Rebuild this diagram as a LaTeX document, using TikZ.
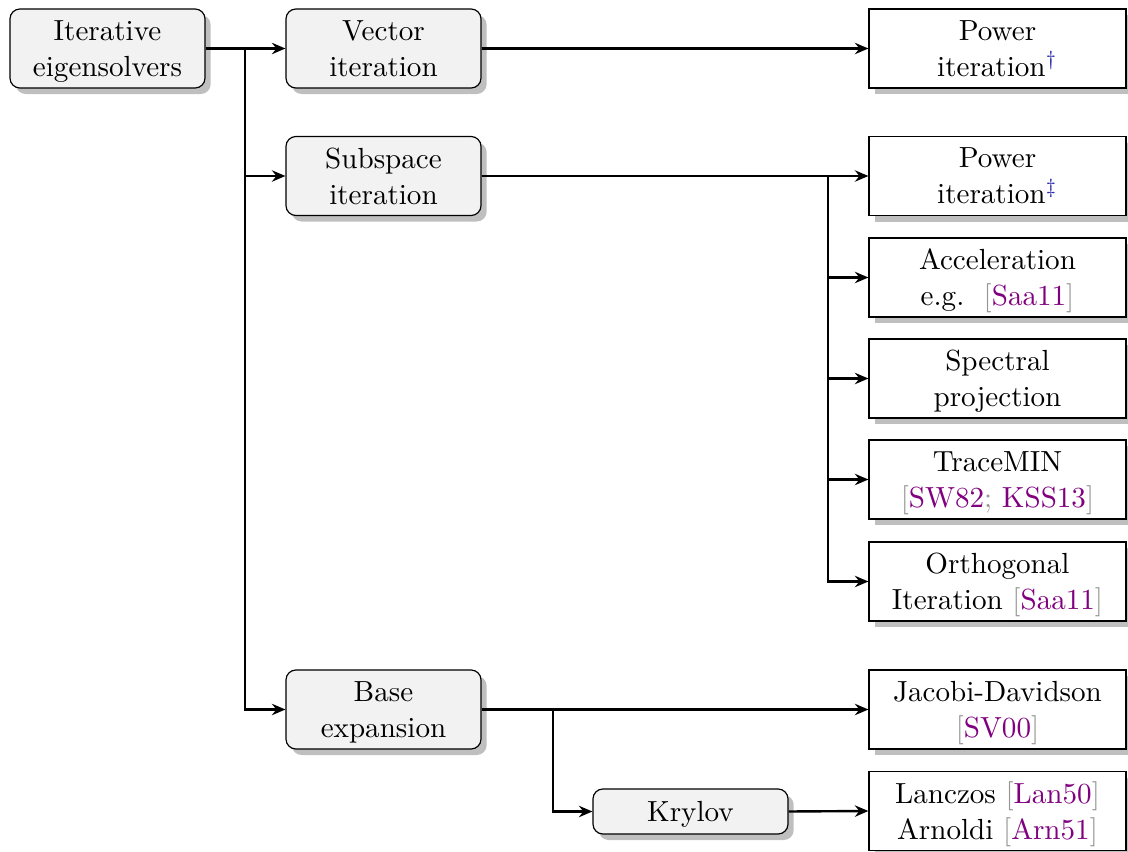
\documentclass[tikz,border=0pt]{standalone}
\usetikzlibrary{arrows.meta,shadows}
\definecolor{citecol}{RGB}{128,0,128}
\definecolor{brk}{RGB}{150,150,150}
\definecolor{dagcol}{RGB}{40,40,170}
\newcommand{\mycite}[1]{\textcolor{brk}{[}\textcolor{citecol}{#1}\textcolor{brk}{]}}
\newcommand{\mysemi}{\textcolor{brk}{;}}
\begin{document}
\begin{tikzpicture}[x=0.3333pt,y=-0.3333pt,
  every node/.style={font=\fontsize{9.7}{12}\selectfont},
  cat/.style={draw, rounded corners=3.3pt, fill=gray!10, align=center,
    minimum width=65pt, minimum height=26.33pt, inner sep=1pt, text depth=0pt,
    drop shadow={shadow xshift=1.9pt, shadow yshift=-2pt}},
  meth/.style={draw, fill=white, align=center,
    minimum width=85.67pt, minimum height=26.33pt, inner sep=1pt, text depth=0pt,
    drop shadow={shadow xshift=1.9pt, shadow yshift=-2pt}},
  conn/.style={line width=0.8pt},
  arr/.style={conn, -{Stealth[length=4.5pt,width=3.8pt,inset=1.5pt]}}]
\useasboundingbox (0,0) rectangle (1128,852);

\node[cat] (iter) at (107.5,48.5) {Iterative\\eigensolvers};
\node[cat] (vec) at (383.5,48.5) {Vector\\iteration};
\node[cat] (sub) at (383.5,176) {Subspace\\iteration};
\node[cat] (base) at (383.5,709.5) {Base\\expansion};
\node[cat, minimum height=15pt] (kry) at (690.5,811.5) {Krylov};

\node[meth] (pw1) at (997.5,48.5) {Power\\iteration\textsuperscript{\textcolor{dagcol}{\textdagger}}};
\node[meth] (pw2) at (997.5,176) {Power\\iteration\textsuperscript{\textcolor{dagcol}{\textdaggerdbl}}};
\node[meth] (acc) at (997.5,277.5) {Acceleration\\e.g.\ \ \mycite{Saa11}};
\node[meth] (spec) at (997.5,378.5) {Spectral\\projection};
\node[meth] (trace) at (997.5,479.5) {TraceMIN\\\textcolor{brk}{[}\textcolor{citecol}{SW82}\mysemi{} \textcolor{citecol}{KSS13}\textcolor{brk}{]}};
\node[meth] (orth) at (997.5,581.5) {Orthogonal\\Iteration \mycite{Saa11}};
\node[meth] (jd) at (997.5,709.5) {Jacobi-Davidson\\\mycite{SV00}};
\node[meth] (lan) at (997.5,811) {Lanczos \mycite{Lan50}\\Arnoldi \mycite{Arn51}};

\coordinate (j1) at (245,48.5);
\coordinate (j2) at (828,176);
\coordinate (j3) at (553,709.5);

\draw[conn] (iter.east) -- (j1);
\draw[arr] (j1) -- (vec.west);
\draw[arr] (j1) |- (sub.west);
\draw[arr] (j1) |- (base.west);

\draw[arr] (vec.east) -- (pw1.west);

\draw[arr] (sub.east) -- (pw2.west);
\draw[arr] (j2) |- (acc.west);
\draw[arr] (j2) |- (spec.west);
\draw[arr] (j2) |- (trace.west);
\draw[arr] (j2) |- (orth.west);

\draw[arr] (base.east) -- (jd.west);
\draw[arr] (j3) |- (kry.west);
\draw[arr] (kry.east) -- (lan.west);
\end{tikzpicture}
\end{document}
